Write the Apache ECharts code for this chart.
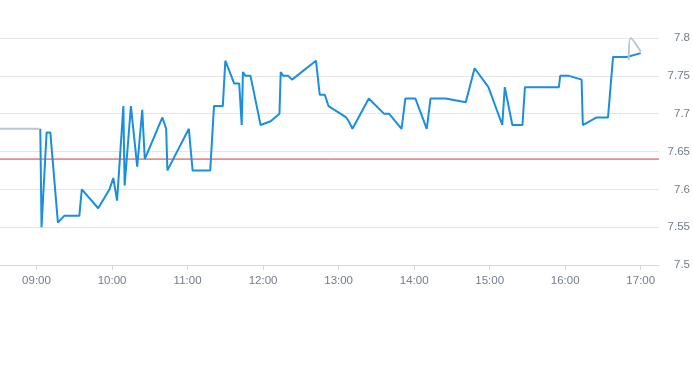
<!DOCTYPE html>
<html>
<head>
<meta charset="utf-8">
<script src="https://cdn.jsdelivr.net/npm/echarts@6/dist/echarts.min.js"></script>
<style>
  html, body { margin: 0; padding: 0; background: #fff; }
  #chart { width: 693px; height: 365px; }
</style>
</head>
<body>
<div id="chart"></div>
<script>
// 分时图
const hourLabels = ['09:00', '10:00', '11:00', '12:00', '13:00', '14:00', '15:00', '16:00', '17:00']

// 盘前 (灰线)
const preTimes = ['08:31', '09:02']
const prePrices = [7.68, 7.68]

// 主线
const times = [
  '09:03', '09:04', '09:08', '09:11', '09:17', '09:22', '09:34', '09:36', '09:49', '09:58',
  '10:01', '10:04', '10:09', '10:10', '10:15', '10:20', '10:24', '10:26', '10:40', '10:43',
  '10:44', '11:01', '11:04', '11:18', '11:21', '11:28', '11:30', '11:37', '11:41', '11:43',
  '11:44', '11:46', '11:50', '11:58', '12:06', '12:13', '12:14', '12:16', '12:20', '12:23',
  '12:42', '12:45', '12:49', '12:52', '13:06', '13:08', '13:11', '13:24', '13:36', '13:40',
  '13:50', '13:53', '14:01', '14:10', '14:13', '14:25', '14:41', '14:48', '14:59', '15:10',
  '15:12', '15:18', '15:26', '15:28', '15:55', '15:56', '16:03', '16:13', '16:14', '16:25',
  '16:34', '16:38', '16:49', '17:00',
]
const prices = [
  7.68, 7.55, 7.675, 7.675, 7.556, 7.565, 7.565, 7.6, 7.575, 7.6,
  7.615, 7.585, 7.71, 7.605, 7.71, 7.63, 7.705, 7.64, 7.695, 7.68,
  7.625, 7.68, 7.625, 7.625, 7.71, 7.71, 7.77, 7.74, 7.74, 7.685,
  7.755, 7.75, 7.75, 7.685, 7.69, 7.7, 7.755, 7.75, 7.75, 7.745,
  7.77, 7.725, 7.725, 7.71, 7.695, 7.69, 7.68, 7.72, 7.7, 7.7,
  7.68, 7.72, 7.72, 7.68, 7.72, 7.72, 7.715, 7.76, 7.735, 7.685,
  7.735, 7.685, 7.685, 7.735, 7.735, 7.75, 7.75, 7.745, 7.685, 7.695,
  7.695, 7.775, 7.775, 7.78,
]

// 盘后 (灰线)
const postTimes = ['16:50:30', '16:52', '17:00']
const postPrices = [7.771, 7.8, 7.782]

// 昨收
const refPrice = 7.64
const xStart = '08:31'
const xEnd = '17:14:30'
const yMin = 7.5
const yMax = 7.8
const yStep = 0.05

// 时间 -> 当天分钟数
const toMin = (t) => {
  const p = t.split(':').map(Number)
  return p[0] * 60 + p[1] + (p[2] || 0) / 60
}
const pair = (ts, vs) => ts.map((t, i) => [toMin(t), vs[i]])
const pad = (n) => (n < 10 ? '0' + n : '' + n)

const hourTicks = hourLabels.map(toMin)
const labelStyle = { color: '#737c88', fontSize: 11.5, fontFamily: 'Arial' }

const myChart = echarts.init(document.getElementById('chart'))
const option = {
  animation: false,
  grid: { left: 0, right: 30, top: 38, bottom: 100 },
  xAxis: {
    type: 'value',
    min: toMin(xStart),
    max: toMin(xEnd),
    axisLine: { lineStyle: { color: '#d4d7dc' } },
    axisTick: { show: true, customValues: hourTicks, length: 5, lineStyle: { color: '#d4d7dc' } },
    axisLabel: {
      ...labelStyle,
      customValues: hourTicks,
      margin: 10,
      formatter: function (v) {
        return pad(Math.floor(v / 60)) + ':' + pad(Math.round(v % 60))
      },
    },
    splitLine: { show: false },
  },
  yAxis: {
    type: 'value',
    position: 'right',
    min: yMin,
    max: yMax,
    interval: yStep,
    axisLine: { show: false },
    axisTick: { show: false },
    axisLabel: { ...labelStyle, align: 'right', margin: 31 },
    splitLine: { lineStyle: { color: '#e4e6ea' } },
  },
  series: [
    {
      // 昨收线
      type: 'line',
      data: [[toMin(xStart), refPrice], [toMin(xEnd), refPrice]],
      symbol: 'none',
      lineStyle: { color: '#d9363e', width: 1 },
      silent: true,
    },
    {
      type: 'line',
      data: pair(preTimes, prePrices),
      symbol: 'none',
      lineStyle: { color: '#bcc7d2', width: 2 },
      silent: true,
    },
    {
      type: 'line',
      data: pair(times, prices),
      symbol: 'none',
      lineStyle: { color: '#1a8fdd', width: 2 },
    },
    {
      type: 'line',
      data: pair(postTimes, postPrices),
      symbol: 'none',
      smooth: true,
      clip: false,
      lineStyle: { color: '#bcc7d2', width: 2 },
      silent: true,
    },
  ],
}

option && myChart.setOption(option)
</script>
</body>
</html>
